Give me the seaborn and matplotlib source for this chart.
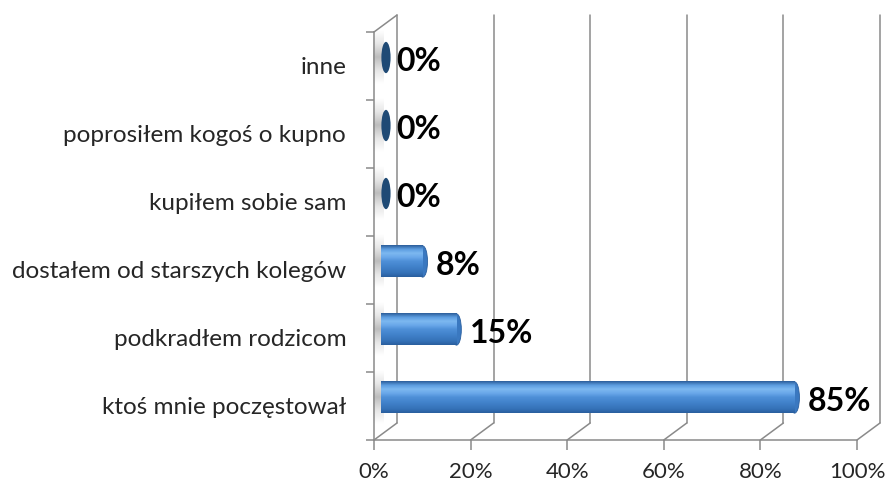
import matplotlib
matplotlib.use('Agg')
import matplotlib.pyplot as plt
import seaborn as sns
import numpy as np
import pandas as pd
from matplotlib.lines import Line2D
from matplotlib.patches import Ellipse, Rectangle

# ---- data (top to bottom) ----
categories = ["inne", "poprosiłem kogoś o kupno", "kupiłem sobie sam",
              "dostałem od starszych kolegów", "podkradłem rodzicom",
              "ktoś mnie poczęstował"]
values = [0, 0, 0, 8, 15, 85]
value_labels = ["0%", "0%", "0%", "8%", "15%", "85%"]
x_ticks = [0, 20, 40, 60, 80, 100]
x_tick_labels = ["0%", "20%", "40%", "60%", "80%", "100%"]

df = pd.DataFrame({"category": categories, "value": values})

sns.set_theme(style="white")
plt.rcParams['font.family'] = ['Lato', 'DejaVu Sans']

W, H = 888, 486
fig = plt.figure(figsize=(W / 100, H / 100), dpi=100)


def rect(l, t, r, b):
    return [l / W, 1 - b / H, (r - l) / W, (b - t) / H]


front = (374, 32, 857, 440)
dx, dy = 23, -17
back = (front[0] + dx, front[1] + dy, front[2] + dx, front[3] + dy)
mid = (front[0] + dx / 2, front[1] + dy / 2, front[2] + dx / 2, front[3] + dy / 2)

grid_col = "#8a8a8a"
lw = 1.1

ylim = (5.5, -0.5)
xlim = (0, 100)

# ---- back wall ----
axb = fig.add_axes(rect(*back))
axb.set_facecolor("none")
axb.set_xlim(*xlim); axb.set_ylim(*ylim)
for t in x_ticks:
    axb.axvline(t, color=grid_col, lw=lw, clip_on=False)
axb.axis("off")

# ---- bars on mid plane ----
axm = fig.add_axes(rect(*mid))
axm.set_facecolor("none")
sns.barplot(data=df, x="value", y="category", order=categories, orient="h",
            color="#4a8fd6", width=0.46, ax=axm, zorder=3, edgecolor="none")
axm.set_xlim(*xlim); axm.set_ylim(*ylim)

grad_cols = ["#2d5f9c", "#5c9de0", "#7db8f0", "#6aa8ea", "#4f90d8",
             "#4586cf", "#3d7cc4", "#3572b8", "#2a5f9f"]
cmap = matplotlib.colors.LinearSegmentedColormap.from_list("g", grad_cols)
shade = matplotlib.colors.LinearSegmentedColormap.from_list(
    "s", ["#ffffff", "#e6e6e6", "#bdbdbd", "#e6e6e6", "#ffffff"])
grad = np.linspace(0, 1, 64).reshape(-1, 1)
cap_w = 2.0
start = -0.9   # visual start of the bar body (just in front of the wall)
end_pad = 0.7  # rounded end sticks out a little
for i, p in enumerate(axm.patches):
    x0 = p.get_x(); w = p.get_width(); y0 = p.get_y(); h = p.get_height()
    v = values[i]
    yc = y0 + h / 2
    # grey shade on the left wall behind each bar
    sh = axm.imshow(grad, cmap=shade, aspect="auto",
                    extent=(-2.6, -0.5, y0 + h * 1.35, y0 - h * 0.35), zorder=1)
    sh.set_clip_on(False)
    if v > 0:
        body_end = x0 + w + end_pad - cap_w / 2
        p.set_x(start)
        p.set_width(body_end - start)
        p.set_clip_on(False)
        cap = Ellipse((body_end, yc), cap_w, h, facecolor="#3a78c0",
                      edgecolor="#2a5f9f", lw=0.6, zorder=2, clip_on=False)
        axm.add_patch(cap)
        im = axm.imshow(grad, cmap=cmap, aspect="auto",
                        extent=(start, body_end, y0 + h, y0), zorder=4)
        im.set_clip_on(False)
        im.set_clip_path(p)
    else:
        p.set_visible(False)
        cap = Ellipse((x0 + w + 0.1, yc), 1.9, h * 1.0,
                      facecolor="#1f4a75", edgecolor="none", zorder=4, clip_on=False)
        axm.add_patch(cap)
    off = 6 if v > 0 else 5
    axm.annotate(value_labels[i], xy=(x0 + w + end_pad, yc), xytext=(off, -3),
                 textcoords="offset points", ha="left", va="center",
                 fontsize=23, fontweight="bold", color="black", zorder=6)
axm.set_xlim(*xlim); axm.set_ylim(*ylim)
axm.axis("off")

# ---- front plane: axes, ticks, labels ----
axf = fig.add_axes(rect(*front))
axf.set_facecolor("none")
axf.set_xlim(*xlim); axf.set_ylim(*ylim)
for s in ["top", "right"]:
    axf.spines[s].set_visible(False)
for s in ["left", "bottom"]:
    axf.spines[s].set_color(grid_col)
    axf.spines[s].set_linewidth(lw)
axf.set_xticks(x_ticks)
axf.set_xticklabels(x_tick_labels, fontsize=16)
axf.set_yticks(range(len(categories)))
axf.set_yticklabels(categories, fontsize=17.5)
axf.set_yticks(np.arange(-0.5, len(categories), 1), minor=True)
axf.tick_params(axis="y", which="major", length=0, pad=20)
axf.tick_params(axis="y", which="minor", length=6, width=lw, color=grid_col, direction="out", left=True)
axf.tick_params(axis="x", which="major", length=7, width=lw, color=grid_col, direction="out", bottom=True, pad=9)
axf.set_xlabel(""); axf.set_ylabel("")

# ---- floor / wall diagonals ----
def fig_pt(px, py):
    return px / W, 1 - py / H

diag = []
for t in x_ticks:
    fx = front[0] + (front[2] - front[0]) * t / 100
    diag.append(((fx, front[3]), (fx + dx, front[3] + dy)))
diag.append(((front[0], front[1]), (front[0] + dx, front[1] + dy)))
for (a, b) in diag:
    xa, ya = fig_pt(*a); xb, yb = fig_pt(*b)
    fig.add_artist(Line2D([xa, xb], [ya, yb], transform=fig.transFigure,
                          color=grid_col, lw=lw))

fig.savefig("out.png", dpi=100, facecolor="white")
